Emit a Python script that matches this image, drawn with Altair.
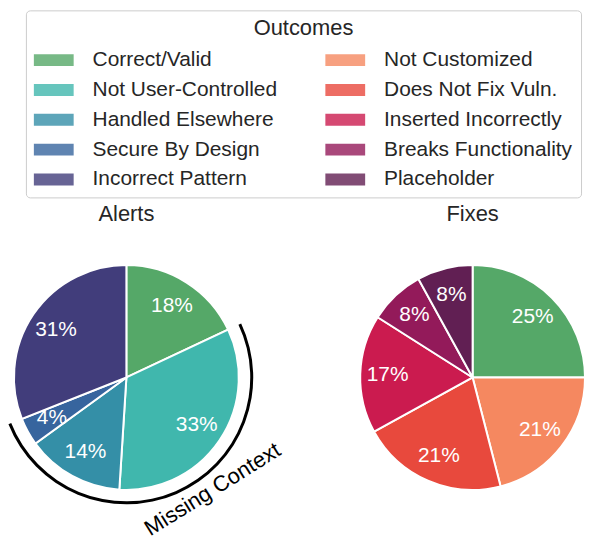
import altair as alt
import numpy as np
import pandas as pd

# ---- data ----
alerts_cats = ["Correct/Valid", "Not User-Controlled", "Handled Elsewhere",
               "Secure By Design", "Incorrect Pattern"]
alerts_pct = [18, 33, 14, 4, 31]

fixes_cats = ["Correct/Valid", "Not Customized", "Does Not Fix Vuln.",
              "Inserted Incorrectly", "Breaks Functionality", "Placeholder"]
fixes_pct = [25, 21, 21, 17, 8, 8]

missing_context = ["Not User-Controlled", "Handled Elsewhere", "Secure By Design"]

legend_left = ["Correct/Valid", "Not User-Controlled", "Handled Elsewhere",
               "Secure By Design", "Incorrect Pattern"]
legend_right = ["Not Customized", "Does Not Fix Vuln.", "Inserted Incorrectly",
                "Breaks Functionality", "Placeholder"]
colors_left = ["#55a868", "#40b7ad", "#348fa7", "#37659e", "#413d7b"]
colors_right = ["#f58860", "#e8493d", "#cb1b4f", "#931a5a", "#611f53"]

domain = legend_left + legend_right
rng = colors_left + colors_right

FONT = "Liberation Sans"
TXT = "#262626"

color_scale = alt.Scale(domain=domain, range=rng)
legend = alt.Legend(
    title="Outcomes", orient="none", legendX=12, legendY=-256,
    columns=2, direction="vertical", titleAnchor="middle",
    titleFontSize=22, titleFontWeight="normal", titleColor=TXT, titleFont=FONT,
    titlePadding=0,
    labelFontSize=21, labelColor=TXT, labelFont=FONT, labelOffset=19,
    labelLimit=400,
    symbolType="M-1,-0.3H1V0.3H-1Z", symbolSize=1600, symbolStrokeWidth=0,
    symbolOpacity=0.8, columnPadding=48, rowPadding=0, padding=8,
    strokeColor="#cccccc", cornerRadius=4, fillColor="white",
)

theta_scale = alt.Scale(domain=[0, 100])
R = 113


def pie_layers(cats, pcts):
    df = pd.DataFrame({"outcome": cats, "pct": pcts, "idx": list(range(len(cats)))})
    base = alt.Chart(df)
    pie = base.mark_arc(radius=R, stroke="white", strokeWidth=2).encode(
        theta=alt.Theta("pct:Q", stack=True, scale=theta_scale),
        color=alt.Color("outcome:N", scale=color_scale, legend=legend),
        order=alt.Order("idx:Q"),
    )
    labels = base.transform_calculate(lbl="datum.pct + '%'").mark_text(
        radius=85.5, fontSize=21, color="white", font=FONT
    ).encode(
        theta=alt.Theta("pct:Q", stack=True, scale=theta_scale),
        detail="outcome:N",
        order=alt.Order("idx:Q"),
        text="lbl:N",
    )
    return pie, labels


# ---- Alerts ----
a_pie, a_lbl = pie_layers(alerts_cats, alerts_pct)
cum = np.concatenate([[0], np.cumsum(alerts_pct)])
i0 = alerts_cats.index(missing_context[0])
i1 = alerts_cats.index(missing_context[-1])
ring_df = pd.DataFrame({"label": ["Missing Context"],
                        "start": [float(cum[i0])], "end": [float(cum[i1 + 1])]})
ring = alt.Chart(ring_df).mark_arc(radius=127.5, radius2=124.5, color="black").encode(
    theta=alt.Theta("start:Q", stack=False, scale=theta_scale),
    theta2="end:Q",
)
ring_text = alt.Chart(ring_df).transform_calculate(
    mid="(datum.start + datum.end) / 2"
).mark_text(radius=142, thetaOffset=-0.248, angle=328, fontSize=22,
            color="black", font=FONT, align="center", baseline="middle").encode(
    theta=alt.Theta("mid:Q", stack=False, scale=theta_scale),
    text="label:N",
)

title_kw = dict(fontSize=22, fontWeight="normal", color=TXT, font=FONT, offset=35)

left = alt.layer(a_pie, a_lbl, ring, ring_text).properties(
    width=2 * R, height=2 * R, title=alt.TitleParams("Alerts", **title_kw)
)

# ---- Fixes ----
f_pie, f_lbl = pie_layers(fixes_cats, fixes_pct)
right = alt.layer(f_pie, f_lbl).properties(
    width=2 * R, height=2 * R, title=alt.TitleParams("Fixes", **title_kw)
)

chart = alt.hconcat(left, right, spacing=122, bounds="flush").resolve_scale(
    color="shared"
).properties(padding=0).configure_view(strokeWidth=0).configure(font=FONT)

chart.save("out.html", embed_options={"renderer": "svg", "actions": False})
